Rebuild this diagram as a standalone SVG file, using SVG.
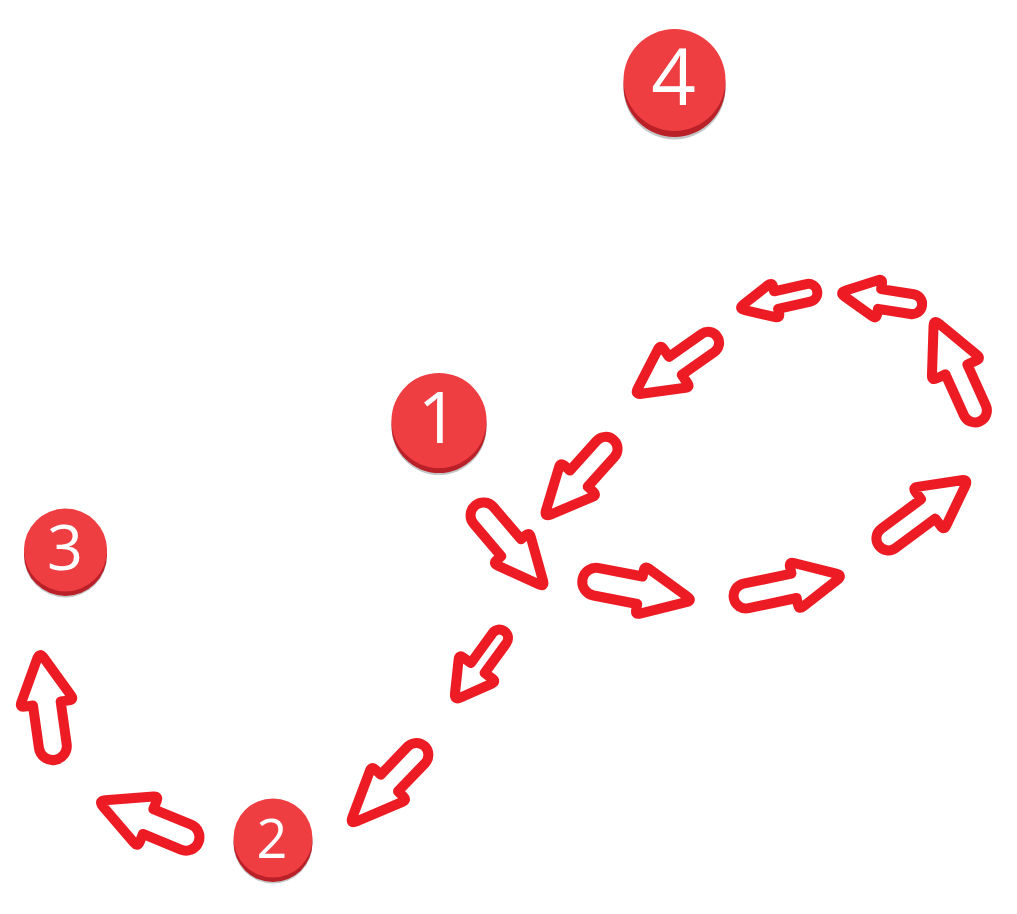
<svg xmlns="http://www.w3.org/2000/svg" width="1017" height="914" viewBox="0 0 1017 914">
<style>
.a{fill:#fff;stroke:#ed1c24;stroke-width:10;stroke-linejoin:round}
.m{fill:#ef3e42}.d{fill:#b92027}.g{fill:#c4c6c8}
.t{fill:#fff;font-family:"Open Sans","Liberation Sans",sans-serif;text-anchor:middle}
</style>
<rect width="1017" height="914" fill="#fff"/>
<g id="node-4"><circle class="g" cx="674.500" cy="88.500" r="51"/><circle class="d" cx="674.500" cy="86" r="51"/><circle class="m" cx="674.500" cy="80" r="51"/><text class="t" x="673.500" y="105" font-size="78">4</text></g>
<g id="node-1"><circle class="g" cx="439" cy="427.500" r="47.500"/><circle class="d" cx="439" cy="425.500" r="47.500"/><circle class="m" cx="439" cy="420.500" r="47.500"/><text class="t" x="438" y="443" font-size="71">1</text></g>
<g id="node-2"><circle class="g" cx="273" cy="844" r="39.500"/><circle class="d" cx="273" cy="842.500" r="39.500"/><circle class="m" cx="273" cy="838" r="39.500"/><text class="t" x="272" y="858" font-size="54">2</text></g>
<g id="node-3"><circle class="g" cx="65.500" cy="556" r="41.500"/><circle class="d" cx="65.500" cy="554.500" r="41.500"/><circle class="m" cx="65.500" cy="550" r="41.500"/><text class="t" x="65" y="570" font-size="63">3</text></g>
<g id="connectors">
<path class="a" transform="translate(543 585) rotate(49.500)" d="M-3.400 -2.900L-44.500 -21.900Q-49 -24 -49 -19L-49 -13L-91.500 -13A13 13 0 0 0 -91.500 13L-49 13L-49 19Q-49 24 -44.500 21.900L-3.400 2.900Q3 0 -3.400 -2.900Z"/>
<path class="a" transform="translate(690 600) rotate(11)" d="M-3.400 -2.900L-46.500 -22.900Q-51 -25 -51 -20L-51 -14L-95.500 -14A14 14 0 0 0 -95.500 14L-51 14L-51 20Q-51 25 -46.500 22.900L-3.400 2.900Q3 0 -3.400 -2.900Z"/>
<path class="a" transform="translate(840 576) rotate(-12)" d="M-3.300 -3.100L-42.500 -22.300Q-47 -24.500 -47 -19.500L-47 -12.500L-96 -12.500A12.500 12.500 0 0 0 -96 12.500L-47 12.500L-47 19.500Q-47 24.500 -42.500 22.300L-3.300 3.100Q3 0 -3.300 -3.100Z"/>
<path class="a" transform="translate(966 481) rotate(-36.500)" d="M-3.200 -3.300L-42.600 -24.200Q-47 -26.500 -47 -21.500L-47 -12L-96.500 -12A12 12 0 0 0 -96.500 12L-47 12L-47 21.500Q-47 26.500 -42.600 24.200L-3.200 3.300Q3 0 -3.200 -3.300Z"/>
<path class="a" transform="translate(935 322) rotate(-114.300)" d="M-3.300 -3.100L-47.500 -24.800Q-52 -27 -52 -22L-52 -12L-97 -12A12 12 0 0 0 -97 12L-52 12L-52 22Q-52 27 -47.500 24.800L-3.300 3.100Q3 0 -3.300 -3.100Z"/>
<path class="a" transform="translate(842 293) rotate(189)" d="M-3.300 -3.100L-33.500 -18.300Q-38 -20.500 -38 -15.500L-38 -10L-71 -10A10 10 0 0 0 -71 10L-38 10L-38 15.500Q-38 20.500 -33.500 18.300L-3.300 3.100Q3 0 -3.300 -3.100Z"/>
<path class="a" transform="translate(741 308) rotate(167.300)" d="M-3.300 -3L-31.500 -16.400Q-36 -18.500 -36 -13.500L-36 -9L-69 -9A9 9 0 0 0 -69 9L-36 9L-36 13.500Q-36 18.500 -31.500 16.400L-3.300 3Q3 0 -3.300 -3Z"/>
<path class="a" transform="translate(637 393) rotate(144.800)" d="M-3.200 -3.200L-42.600 -23.700Q-47 -26 -47 -21L-47 -11L-87 -11A11 11 0 0 0 -87 11L-47 11L-47 21Q-47 26 -42.600 23.700L-3.200 3.200Q3 0 -3.200 -3.200Z"/>
<path class="a" transform="translate(546 515) rotate(132)" d="M-3.300 -3L-44.500 -22.400Q-49 -24.500 -49 -19.500L-49 -12L-89 -12A12 12 0 0 0 -89 12L-49 12L-49 19.500Q-49 24.500 -44.500 22.400L-3.300 3Q3 0 -3.300 -3Z"/>
<path class="a" transform="translate(456 698) rotate(126)" d="M-3.100 -3.500L-32.700 -20.500Q-37 -23 -37 -18L-37 -8.500L-74 -8.500A8.500 8.500 0 0 0 -74 8.500L-37 8.500L-37 18Q-37 23 -32.700 20.500L-3.100 3.500Q3 0 -3.100 -3.500Z"/>
<path class="a" transform="translate(352 822) rotate(133.800)" d="M-3.400 -2.800L-49.400 -22.500Q-54 -24.500 -54 -19.500L-54 -12L-93 -12A12 12 0 0 0 -93 12L-54 12L-54 19.500Q-54 24.500 -49.400 22.500L-3.400 2.800Q3 0 -3.400 -2.800Z"/>
<path class="a" transform="translate(101 802) rotate(202.500)" d="M-3.200 -3.200L-46.500 -25.200Q-51 -27.500 -51 -22.500L-51 -13.500L-92 -13.500A13.500 13.500 0 0 0 -92 13.500L-51 13.500L-51 22.500Q-51 27.500 -46.500 25.200L-3.200 3.200Q3 0 -3.200 -3.200Z"/>
<path class="a" transform="translate(40 655) rotate(-98)" d="M-3.200 -3.300L-44.600 -25.200Q-49 -27.500 -49 -22.500L-49 -14L-92 -14A14 14 0 0 0 -92 14L-49 14L-49 22.500Q-49 27.500 -44.600 25.200L-3.200 3.300Q3 0 -3.200 -3.300Z"/>
</g>
</svg>
